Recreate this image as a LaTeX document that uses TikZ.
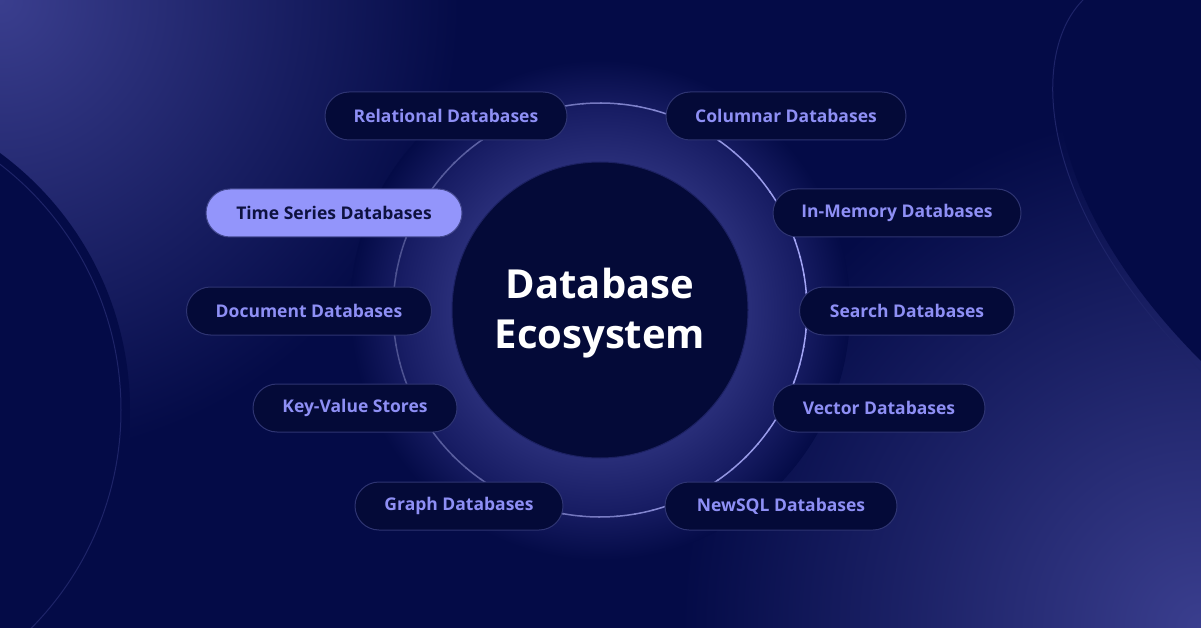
\documentclass[tikz,border=0pt]{standalone}
\usepackage{fontspec}
\setmainfont{Open Sans}
\usepackage{xcolor}
\definecolor{EcoBase}{HTML}{040B47}
\definecolor{EcoCorner}{HTML}{3A3E8E}
\definecolor{EcoCore}{HTML}{040A38}
\definecolor{EcoCoreLine}{HTML}{1C2162}
\definecolor{EcoGlow}{HTML}{282D78}
\definecolor{EcoGlowMid}{HTML}{181D64}
\definecolor{EcoEdge}{HTML}{1E2468}
\definecolor{EcoPill}{HTML}{040A38}
\definecolor{EcoPillLine}{HTML}{2E3472}
\definecolor{EcoText}{HTML}{8E8FF5}
\definecolor{EcoHi}{HTML}{9395FB}
\definecolor{EcoHiText}{HTML}{0E1240}
\definecolor{EcoRingLo}{HTML}{4C5190}
\definecolor{EcoRingHi}{HTML}{A3A5F5}
\pgfdeclareradialshading{ecoglow}{\pgfpoint{0bp}{0bp}}{color(0bp)=(EcoGlow); color(15bp)=(EcoGlow); color(20bp)=(EcoGlowMid); color(25bp)=(EcoBase); color(50bp)=(EcoBase)}

\begin{document}
\begin{tikzpicture}[x=1pt, y=-1pt,
  dbpill/.style={draw=EcoPillLine, line width=1, fill=EcoPill, text=EcoText,
    rounded corners=24, minimum height=48, inner sep=0,
    font=\fontsize{17.5}{21}\selectfont\bfseries},
  dbpillhi/.style={dbpill, fill=EcoHi, text=EcoHiText, draw=EcoPillLine!80!EcoHi}]
  \clip (0,0) rectangle (1201,628);
  \fill[EcoBase] (0,0) rectangle (1201,628);
  % corner glows
  \shade[inner color=EcoCorner, outer color=EcoBase] (0,0) circle (460);
  \shade[inner color=EcoCorner, outer color=EcoBase] (1201,628) circle (520);
  \fill[EcoBase] (-189,410) circle (319);
  \draw[EcoEdge, line width=1] (-189,410) circle (310);
  \fill[EcoBase] (1090,-1) .. controls (1035,50) and (1040,200) .. (1202,362) -- (1202,-1) -- cycle;
  \draw[EcoEdge, line width=1] (1084,-1) .. controls (1029,52) and (1034,206) .. (1202,372);
  % ring
  \shade[shading=ecoglow] (600,310) circle (250);
  \foreach \a in {0,5,...,355}{
    \pgfmathsetmacro{\p}{50+50*cos(\a+2.5)}
    \draw[EcoRingHi!\p!EcoRingLo, line width=1.5] (600,310) ++(\a:207) arc[start angle=\a, end angle=\a+5.5, radius=207];
  }
  \fill[EcoCore] (600,310) circle (148);
  \draw[EcoCoreLine, line width=1] (600,310) circle (148);
  \node[white, align=center, font=\fontsize{40}{50}\selectfont\bfseries] (core) at (600,313) {Database\\Ecosystem};
  % categories
  \node[dbpill, minimum width=242] (relational) at (446,116) {Relational Databases};
  \node[dbpill, minimum width=240] (columnar) at (786,116) {Columnar Databases};
  \node[dbpillhi, minimum width=256] (timeseries) at (334,213) {Time Series Databases};
  \node[dbpill, minimum width=248] (inmemory) at (897,213) {In-Memory Databases};
  \node[dbpill, minimum width=245] (document) at (309,311) {Document Databases};
  \node[dbpill, minimum width=215] (search) at (907,311) {Search Databases};
  \node[dbpill, minimum width=204] (keyvalue) at (355,408) {Key-Value Stores};
  \node[dbpill, minimum width=212] (vector) at (879,408) {Vector Databases};
  \node[dbpill, minimum width=208] (graph) at (459,506) {Graph Databases};
  \node[dbpill, minimum width=232] (newsql) at (781,506) {NewSQL Databases};
\end{tikzpicture}
\end{document}
